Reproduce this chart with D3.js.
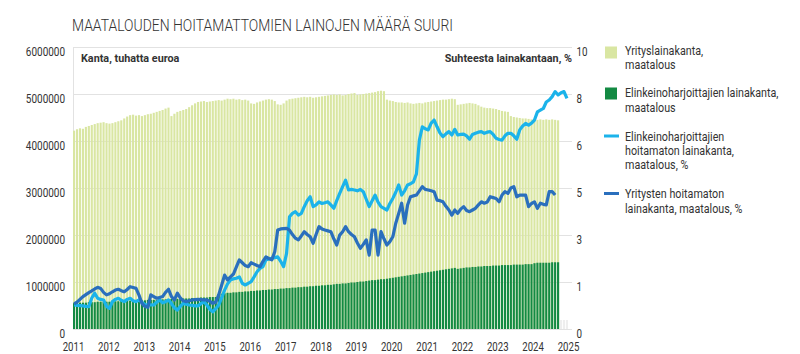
<!DOCTYPE html>
<html>
<head>
<meta charset="utf-8">
<script src="https://cdn.jsdelivr.net/npm/d3@7"></script>
<style>
  body { margin: 0; background: #fff; }
  svg { display: block; }
  .chart text { fill: #333; }
</style>
</head>
<body>
<div id="chart"></div>
<script>
'use strict';

const FONT_FAMILY = 'Roboto, "Liberation Sans", sans-serif';
const START_YEAR = 2011;
const END_YEAR = 2025;

// Monthly stocks from Jan 2011, million x tuhatta euroa.
const yritysKanta = [
  4.22, 4.25, 4.27, 4.26, 4.30, 4.32, 4.34, 4.36, 4.38, 4.39, 4.40, 4.38,
  4.37, 4.38, 4.40, 4.42, 4.44, 4.48, 4.52, 4.55, 4.56, 4.54, 4.55, 4.53,
  4.55, 4.57, 4.58, 4.60, 4.62, 4.64, 4.66, 4.69, 4.71, 4.53, 4.58, 4.62,
  4.64, 4.66, 4.68, 4.72, 4.76, 4.80, 4.83, 4.84, 4.85, 4.83, 4.84, 4.85,
  4.86, 4.87, 4.86, 4.88, 4.90, 4.89, 4.90, 4.88, 4.89, 4.87, 4.88, 4.86,
  4.80, 4.79, 4.82, 4.84, 4.86, 4.88, 4.89, 4.88, 4.85, 4.78, 4.77, 4.80,
  4.86, 4.89, 4.90, 4.91, 4.92, 4.93, 4.94, 4.93, 4.94, 4.92, 4.93, 4.94,
  4.95, 4.96, 4.97, 4.98, 4.99, 4.98, 4.99, 4.97, 4.98, 5.00, 5.01, 5.02,
  4.98, 4.99, 5.00, 5.01, 5.02, 5.03, 5.04, 5.06, 5.07, 5.06, 4.88, 4.86,
  4.85, 4.83, 4.82, 4.82, 4.81, 4.82, 4.80, 4.79, 4.80, 4.81, 4.80, 4.82,
  4.83, 4.84, 4.85, 4.86, 4.87, 4.88, 4.88, 4.89, 4.90, 4.89, 4.77, 4.78,
  4.79, 4.80, 4.81, 4.80, 4.79, 4.76, 4.73, 4.71, 4.70, 4.70, 4.69, 4.68,
  4.66, 4.64, 4.63, 4.62, 4.53, 4.51, 4.50, 4.49, 4.48, 4.48, 4.47, 4.46,
  4.47, 4.45, 4.46, 4.45, 4.46, 4.45, 4.46, 4.45, 4.44
];

const elinkeinoKanta = [
  0.55, 0.55, 0.56, 0.56, 0.56, 0.57, 0.57, 0.57, 0.58, 0.58, 0.58, 0.58,
  0.58, 0.59, 0.59, 0.59, 0.60, 0.60, 0.60, 0.60, 0.61, 0.61, 0.61, 0.61,
  0.61, 0.62, 0.62, 0.62, 0.62, 0.63, 0.63, 0.63, 0.63, 0.64, 0.64, 0.64,
  0.64, 0.65, 0.65, 0.65, 0.66, 0.66, 0.66, 0.67, 0.67, 0.67, 0.68, 0.68,
  0.68, 0.74, 0.75, 0.76, 0.77, 0.77, 0.78, 0.78, 0.79, 0.79, 0.80, 0.80,
  0.81, 0.81, 0.82, 0.82, 0.83, 0.83, 0.84, 0.84, 0.85, 0.85, 0.86, 0.86,
  0.87, 0.87, 0.88, 0.88, 0.89, 0.89, 0.90, 0.90, 0.91, 0.91, 0.92, 0.92,
  0.93, 0.93, 0.94, 0.94, 0.95, 0.96, 0.96, 0.97, 0.97, 0.98, 0.99, 0.99,
  1.00, 1.01, 1.01, 1.02, 1.03, 1.04, 1.04, 1.05, 1.06, 1.06, 1.07, 1.08,
  1.09, 1.10, 1.11, 1.12, 1.13, 1.14, 1.15, 1.16, 1.17, 1.18, 1.19, 1.20,
  1.21, 1.22, 1.23, 1.24, 1.25, 1.26, 1.27, 1.28, 1.29, 1.30, 1.28, 1.29,
  1.30, 1.31, 1.31, 1.32, 1.32, 1.33, 1.33, 1.34, 1.34, 1.34, 1.35, 1.35,
  1.35, 1.36, 1.36, 1.36, 1.36, 1.37, 1.37, 1.37, 1.37, 1.38, 1.38, 1.38,
  1.40, 1.41, 1.41, 1.41, 1.41, 1.41, 1.42, 1.42, 1.42
];

// Non-performing share of the stock, %, monthly from Jan 2011.
const elinkeinoHoitamaton = [
  0.85, 0.84, 0.83, 0.82, 0.80, 0.79, 1.10, 1.27, 1.09, 1.05, 1.03, 0.80,
  0.73, 0.97, 1.05, 1.09, 1.02, 0.97, 1.05, 1.09, 1.00, 0.97, 1.03, 0.95,
  0.87, 0.85, 0.86, 0.85, 0.95, 1.03, 0.93, 0.97, 1.03, 0.90, 0.75, 0.67,
  0.80, 0.91, 0.88, 0.85, 0.84, 0.82, 0.82, 0.90, 0.97, 0.85, 0.70, 0.61,
  0.72, 0.85, 1.10, 1.38, 1.60, 1.74, 1.78, 1.80, 1.85, 1.62, 1.56, 1.62,
  1.68, 1.85, 2.03, 2.15, 2.21, 2.45, 2.48, 2.51, 2.53, 2.56, 2.40, 2.21,
  2.68, 3.98, 4.10, 4.16, 4.04, 4.10, 4.34, 4.55, 4.69, 4.34, 4.40, 4.51,
  4.45, 4.48, 4.51, 4.40, 4.28, 4.55, 4.81, 5.05, 5.28, 4.93, 4.95, 4.93,
  4.90, 4.95, 4.87, 4.60, 4.34, 4.55, 4.75, 4.50, 4.34, 4.28, 4.22, 4.45,
  4.63, 4.85, 5.11, 4.75, 4.90, 5.11, 5.15, 5.22, 5.50, 6.70, 7.17, 7.10,
  7.06, 7.30, 7.41, 7.17, 6.95, 6.82, 6.92, 7.00, 6.88, 7.08, 6.88, 6.90,
  6.91, 6.85, 6.73, 6.90, 6.94, 6.98, 7.00, 6.94, 6.98, 7.00, 6.90, 6.76,
  6.72, 6.70, 6.85, 6.94, 6.94, 6.85, 6.73, 7.06, 7.20, 7.29, 7.23, 7.30,
  7.41, 7.70, 7.76, 7.82, 8.05, 8.12, 8.24, 8.42, 8.30, 8.38, 8.42, 8.18
];

const yritysHoitamaton = [
  0.89, 0.95, 1.05, 1.15, 1.22, 1.29, 1.35, 1.42, 1.48, 1.44, 1.30, 1.21,
  1.25, 1.32, 1.38, 1.41, 1.36, 1.32, 1.40, 1.50, 1.47, 1.44, 1.20, 0.91,
  0.80, 0.77, 1.21, 1.15, 1.09, 1.12, 1.15, 1.30, 1.41, 1.15, 1.03, 1.27,
  1.10, 1.00, 0.97, 1.00, 1.03, 1.04, 1.05, 1.04, 1.03, 1.03, 0.98, 0.91,
  0.95, 1.21, 1.55, 1.91, 1.74, 1.85, 1.95, 2.20, 2.45, 2.35, 2.25, 2.21,
  2.35, 2.30, 2.25, 2.21, 2.40, 2.56, 2.50, 2.45, 2.74, 3.51, 3.55, 3.56,
  3.57, 3.51, 3.35, 3.22, 3.16, 3.30, 3.45, 3.35, 3.27, 3.04, 3.35, 3.63,
  3.55, 3.51, 3.48, 3.45, 3.20, 2.98, 3.33, 3.45, 3.63, 3.45, 3.35, 3.27,
  3.05, 2.86, 3.00, 3.16, 2.62, 3.51, 3.51, 2.62, 3.45, 3.20, 2.98, 3.10,
  3.27, 3.75, 4.10, 4.46, 3.75, 4.40, 4.69, 4.72, 4.75, 4.90, 5.05, 4.95,
  4.93, 4.90, 4.87, 4.57, 4.55, 4.51, 4.35, 4.22, 4.04, 4.22, 4.10, 4.25,
  4.34, 4.20, 4.16, 4.22, 4.28, 4.40, 4.51, 4.46, 4.50, 4.69, 4.66, 4.63,
  4.51, 4.75, 4.87, 4.81, 5.00, 5.05, 4.69, 4.75, 4.75, 4.75, 4.34, 4.45,
  4.51, 4.28, 4.46, 4.42, 4.40, 4.87, 4.87, 4.75
];

const leftTicks = [0, 1000000, 2000000, 3000000, 4000000, 5000000, 6000000];

const legendItems = [
  {type: 'rect', color: '#d9e6a2', lines: ['Yrityslainakanta,', 'maatalous']},
  {type: 'rect', color: '#138a43', lines: ['Elinkeinoharjoittajien lainakanta,', 'maatalous']},
  {type: 'line', color: '#1bb3ea', lines: ['Elinkeinoharjoittajien', 'hoitamaton lainakanta,', 'maatalous, %']},
  {type: 'line', color: '#2a6fbd', lines: ['Yritysten hoitamaton', 'lainakanta, maatalous, %']}
];

const W = 800, H = 354;
const plot = {left: 73, right: 568, top: 47, bottom: 329, gridRight: 572};
const nMonths = (END_YEAR - START_YEAR) * 12;

// The original uses a condensed face; squeeze Roboto horizontally around each text's x.
function condense(sel, k) {
  sel.each(function () {
    let x = +this.getAttribute('x') || 0;
    d3.select(this).attr('transform',
      'translate(' + x + ',0) scale(' + k + ',1) translate(' + (-x) + ',0)');
  });
}

const svg = d3.select('#chart').append('svg')
  .attr('class', 'chart')
  .attr('width', W)
  .attr('height', H)
  .style('font-family', FONT_FAMILY);

// Scales.
const xMonth = d3.scaleBand()
  .domain(d3.range(nMonths))
  .range([plot.left, plot.right])
  .paddingInner(0.28)
  .paddingOuter(0);

const xYear = d3.scaleTime()
  .domain([new Date(START_YEAR, 0, 1), new Date(END_YEAR, 0, 1)])
  .range([plot.left, plot.right]);

const yLeft = d3.scaleLinear().domain([0, 6000000]).range([plot.bottom, plot.top]);
const yRight = d3.scaleLinear().domain([0, 10]).range([plot.bottom, plot.top]);

// Title.
svg.append('text')
  .attr('x', 72)
  .attr('y', 31)
  .style('font-size', '17px')
  .style('font-weight', 300)
  .style('fill', '#333')
  .text('MAATALOUDEN HOITAMATTOMIEN LAINOJEN MÄÄRÄ SUURI')
  .call(condense, 0.82);

// Grid lines.
svg.append('g')
  .selectAll('line')
  .data(leftTicks)
  .enter()
  .append('line')
  .attr('x1', plot.left)
  .attr('x2', plot.gridRight)
  .attr('y1', d => Math.round(yLeft(d)) + 0.5)
  .attr('y2', d => Math.round(yLeft(d)) + 0.5)
  .style('stroke', '#e2e2e2')
  .style('stroke-width', 1);

svg.append('line')
  .attr('x1', plot.left + 0.5)
  .attr('x2', plot.left + 0.5)
  .attr('y1', plot.top)
  .attr('y2', plot.bottom)
  .style('stroke', '#e2e2e2');

// Bars: total business lending (light), sole traders (dark).
svg.append('g')
  .selectAll('rect')
  .data(yritysKanta)
  .enter()
  .append('rect')
  .attr('x', (d, i) => xMonth(i))
  .attr('width', xMonth.bandwidth())
  .attr('y', d => yLeft(d * 1e6))
  .attr('height', d => plot.bottom - yLeft(d * 1e6))
  .style('fill', legendItems[0].color);

svg.append('g')
  .selectAll('rect')
  .data(elinkeinoKanta)
  .enter()
  .append('rect')
  .attr('x', (d, i) => xMonth(i))
  .attr('width', xMonth.bandwidth())
  .attr('y', d => yLeft(d * 1e6))
  .attr('height', d => plot.bottom - yLeft(d * 1e6))
  .style('fill', legendItems[1].color);

// Empty months at the end.
svg.append('g')
  .selectAll('rect')
  .data(d3.range(yritysKanta.length, nMonths))
  .enter()
  .append('rect')
  .attr('x', d => xMonth(d))
  .attr('width', xMonth.bandwidth())
  .attr('y', plot.bottom - 9)
  .attr('height', 9)
  .style('fill', '#eeeeee');

// Lines.
const lineGen = d3.line()
  .x((d, i) => xMonth(i) + xMonth.bandwidth() / 2)
  .y(d => yRight(d));

[[elinkeinoHoitamaton, legendItems[2].color], [yritysHoitamaton, legendItems[3].color]]
  .forEach(function (s) {
    svg.append('path')
      .datum(s[0])
      .attr('d', lineGen)
      .style('fill', 'none')
      .style('stroke', s[1])
      .style('stroke-width', 3.2)
      .style('stroke-linejoin', 'round');
  });

// Axes. Labels sit a little below their grid line, as in the original.
let axisLeft = svg.append('g')
  .attr('transform', 'translate(65,4.5)')
  .call(d3.axisLeft(yLeft).tickValues(leftTicks).tickFormat(d3.format('d')).tickSize(0).tickPadding(0));
axisLeft.select('.domain').remove();

let axisRight = svg.append('g')
  .attr('transform', 'translate(576.5,4.5)')
  .call(d3.axisRight(yRight).tickValues(leftTicks.map(v => yRight.invert(yLeft(v))))
    .tickFormat(d => Math.floor(d + 1e-9)).tickSize(0).tickPadding(0));
axisRight.select('.domain').remove();

let axisBottom = svg.append('g')
  .attr('transform', 'translate(0,' + plot.bottom + ')')
  .call(d3.axisBottom(xYear).ticks(d3.timeYear.every(1)).tickFormat(d3.timeFormat('%Y')).tickSize(0).tickPadding(13));
axisBottom.select('.domain').remove();

svg.selectAll('.tick text')
  .style('font-family', FONT_FAMILY)
  .style('font-size', '12px')
  .style('fill', '#333');

axisLeft.selectAll('.tick text').call(condense, 0.83);
axisRight.selectAll('.tick text').call(condense, 0.82);
axisBottom.selectAll('.tick text').call(condense, 0.8);

// Axis headers inside the plot.
svg.append('text')
  .attr('x', 81)
  .attr('y', 62)
  .style('font-size', '11.5px')
  .style('font-weight', 'bold')
  .text('Kanta, tuhatta euroa')
  .call(condense, 0.94);

svg.append('text')
  .attr('x', plot.gridRight)
  .attr('y', 62)
  .attr('text-anchor', 'end')
  .style('font-size', '11.5px')
  .style('font-weight', 'bold')
  .text('Suhteesta lainakantaan, %')
  .call(condense, 0.94);

// Legend.
const legendMarkY = [52.5, 93.5, 136, 193.5];
const legendTextY = [55, 97.5, 141, 198.5];
let legend = svg.append('g');
legendItems.forEach(function (item, i) {
  if (item.type === 'rect') {
    legend.append('rect')
      .attr('x', 605).attr('y', legendMarkY[i] - 6)
      .attr('width', 12).attr('height', 12)
      .style('fill', item.color);
  } else {
    legend.append('line')
      .attr('x1', 604).attr('x2', 619)
      .attr('y1', legendMarkY[i]).attr('y2', legendMarkY[i])
      .style('stroke', item.color)
      .style('stroke-width', 3);
  }
  legend.append('g')
    .selectAll('text')
    .data(item.lines)
    .enter()
    .append('text')
    .attr('x', 625)
    .attr('y', (d, j) => legendTextY[i] + j * 14.2)
    .style('font-size', '12.5px')
    .text(d => d)
    .call(condense, 0.86);
});
</script>
</body>
</html>
